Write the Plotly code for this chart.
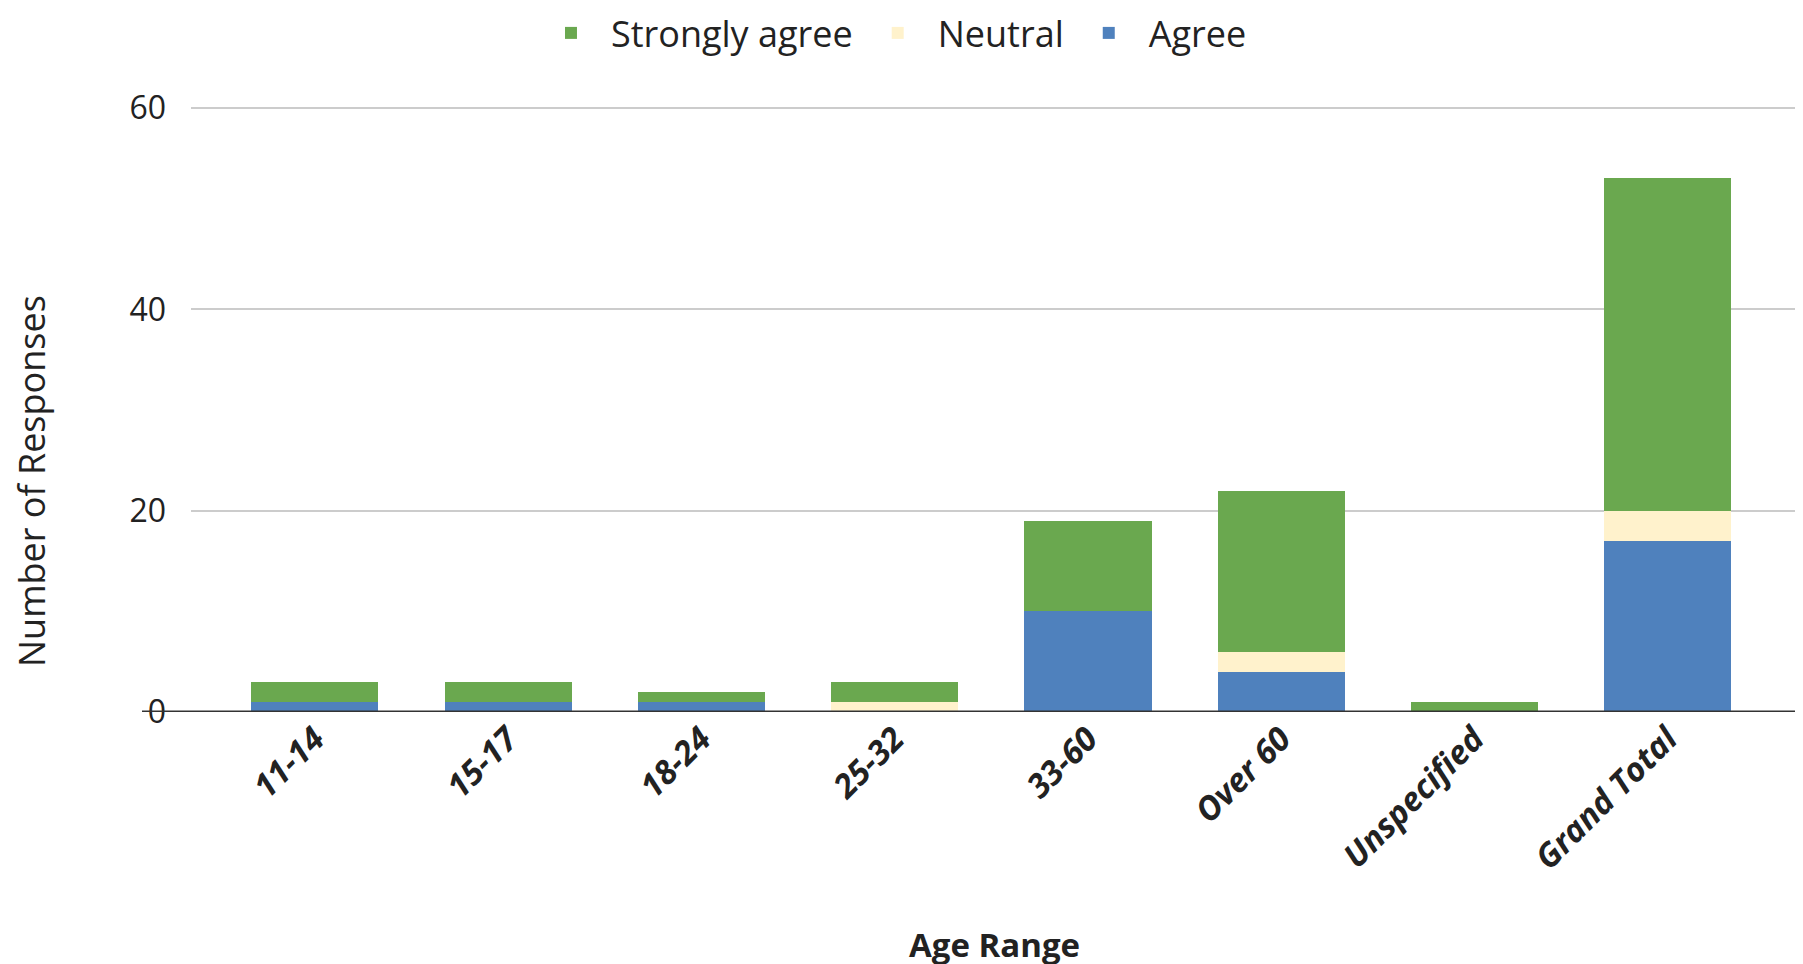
import plotly.graph_objects as go

categories = ["11-14", "15-17", "18-24", "25-32", "33-60", "Over 60", "Unspecified", "Grand Total"]
agree = [1, 1, 1, 0, 10, 4, 0, 17]
neutral = [0, 0, 0, 1, 0, 2, 0, 3]
strongly_agree = [2, 2, 1, 2, 9, 16, 1, 33]

W, H = 1803, 964
L, R, T, B = 183, 8, 97, 260
pw = W - L - R
ph = H - T - B
Y0 = H - B  # pixel row of zero line

FONT = "Open Sans"
TXT = "#222222"

fig = go.Figure()
fig.add_trace(go.Bar(name="Agree", x=categories, y=agree, marker_color="#4F81BD", marker_line_width=0))
fig.add_trace(go.Bar(name="Neutral", x=categories, y=neutral, marker_color="#FFF2CC", marker_line_width=0))
fig.add_trace(go.Bar(name="Strongly agree", x=categories, y=strongly_agree, marker_color="#6AA84F", marker_line_width=0))

fig.update_layout(
    width=W, height=H,
    barmode="stack",
    bargap=0.342,
    plot_bgcolor="white",
    paper_bgcolor="white",
    margin=dict(l=L, r=R, t=T, b=B, autoexpand=False),
    font=dict(family=FONT, color=TXT),
    legend=dict(
        orientation="h",
        traceorder="reversed",
        xref="container", yref="container",
        x=0.49, xanchor="center",
        y=1 - 25 / H, yanchor="middle",
        font=dict(size=36, family=FONT, color=TXT),
        itemwidth=70,
    ),
    xaxis=dict(
        range=[-0.641, 7.70],
        tickangle=-45,
        tickfont=dict(size=33, family=FONT, color=TXT, style="italic", weight="bold"),
        showgrid=False,
        showline=False,
        zeroline=False,
        ticks="",
    ),
    yaxis=dict(
        range=[0, 60.3],
        tickvals=[0, 20, 40, 60],
        tickfont=dict(size=32, family=FONT, color=TXT),
        gridcolor="#cccccc",
        gridwidth=2,
        zeroline=False,
        showline=False,
        ticks="",
        ticklabelstandoff=24,
    ),
    shapes=[
        dict(type="line", xref="paper", yref="y", x0=(134 - L) / pw, x1=1, y0=0, y1=0,
             line=dict(color="#333333", width=3), layer="above"),
    ],
    annotations=[
        dict(text="Number of Responses", xref="paper", yref="paper",
             x=(23 - L) / pw, y=(Y0 - 473) / ph, textangle=-90, showarrow=False,
             xanchor="center", yanchor="middle",
             font=dict(size=36, family=FONT, color=TXT)),
        dict(text="<b>Age Range</b>", xref="paper", yref="paper",
             x=(986 - L) / pw, y=(Y0 - 936) / ph, showarrow=False,
             xanchor="center", yanchor="middle",
             font=dict(size=33, family=FONT, color=TXT)),
    ],
)

fig.write_html("out.html")
